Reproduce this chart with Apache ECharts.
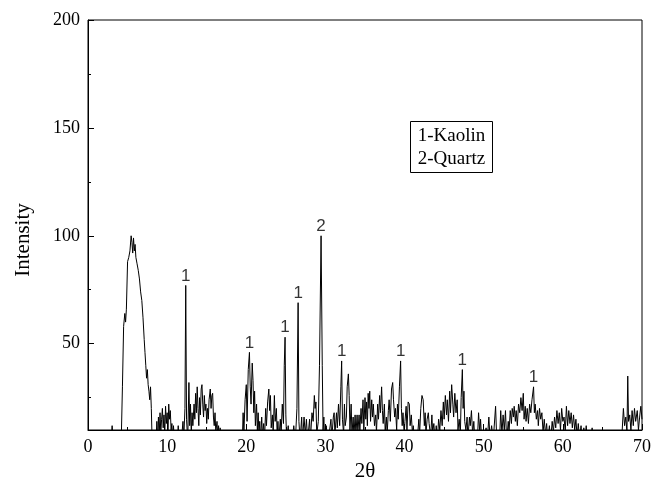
<!DOCTYPE html>
<html>
<head>
<meta charset="utf-8">
<script src="https://cdn.jsdelivr.net/npm/echarts@6/dist/echarts.min.js"></script>
<style>html,body{margin:0;padding:0;background:#fff}#c{width:651px;height:483px}</style>
</head>
<body>
<div id="c"></div>
<script>
// XRD scan: [2θ, intensity]; values below the axis minimum are clipped by the plot
const scan = [
[0.5,5],[2.9,5],[3.05,12],[3.2,5],[4.2,5],[4.35,30],[4.5,58],[4.65,64],[4.75,60],[4.85,66],[5.0,88],[5.15,90],[5.3,93],[5.45,100],[5.55,97],[5.65,92],[5.75,99],[5.85,93],[5.95,96],[6.05,90],[6.2,87],[6.35,84],[6.5,80],[6.65,74],[6.8,70],[6.95,62],[7.1,52],[7.2,46],[7.3,40],[7.4,34],[7.5,38],[7.6,31],[7.7,28],[7.8,24],[7.9,30],[8.0,20],[8.1,5],
[8.6,5],[8.7,14],[8.8,5],[8.9,16],[9.0,8],[9.1,18],[9.2,9],[9.3,15],[9.4,20],[9.5,11],[9.6,17],[9.7,8],[9.8,21],[9.9,13],[10.0,18],[10.1,7],[10.2,22],[10.3,15],[10.4,19],[10.5,10],[10.6,13],[10.7,5],[10.8,12],[10.9,6],[11.0,5],[11.3,5],[11.4,12],[11.5,5],[11.8,5],[12.0,14],[12.1,6],
[12.25,20],[12.35,77],[12.45,15],[12.6,5],[12.75,32],[12.85,12],[12.95,22],[13.05,8],[13.15,18],[13.25,12],[13.4,22],[13.5,15],[13.6,27],[13.7,18],[13.8,30],[13.9,20],[14.0,12],[14.1,25],[14.2,17],[14.3,29],[14.4,31],[14.5,22],[14.6,16],[14.7,26],[14.8,19],[14.9,22],[15.0,13],[15.1,20],[15.2,15],[15.3,24],[15.45,29],[15.55,20],[15.65,26],[15.75,27],[15.85,16],[15.95,12],[16.05,18],[16.15,9],[16.3,14],[16.4,7],[16.5,12],[16.6,5],[16.7,11],[16.85,5],[17.0,9],[17.1,5],
[19.5,5],[19.6,18],[19.7,9],[19.85,24],[20.0,31],[20.1,14],[20.25,38],[20.4,46],[20.5,30],[20.6,22],[20.75,41],[20.85,33],[20.95,18],[21.05,28],[21.15,12],[21.3,22],[21.4,9],[21.5,18],[21.6,8],[21.7,14],[21.8,5],[21.95,16],[22.05,7],[22.2,13],[22.3,5],[22.45,20],[22.55,12],[22.7,23],[22.85,29],[22.95,19],[23.05,26],[23.15,11],[23.3,17],[23.4,8],[23.55,26],[23.65,14],[23.8,20],[23.9,8],[24.0,14],[24.1,5],[24.3,15],[24.4,8],[24.55,22],[24.7,13],[24.8,40],[24.9,53],[25.0,17],[25.1,5],[25.3,12],[25.4,5],[25.6,8],[25.8,5],[26.0,12],[26.2,5],[26.4,20],[26.55,69],[26.65,14],[26.8,5],[27.0,16],[27.1,5],[27.3,16],[27.45,8],[27.6,15],[27.75,5],[28.0,15],[28.1,5],[28.3,18],[28.45,14],[28.6,26],[28.7,20],[28.8,23],[28.9,8],[29.1,14],[29.25,40],[29.45,100],[29.6,40],[29.7,10],[29.8,16],[29.9,5],
[30.1,12],[30.3,5],[30.5,9],[30.7,15],[30.8,6],[31.0,16],[31.1,18],[31.2,8],[31.4,18],[31.5,11],[31.65,22],[31.8,12],[31.95,30],[32.05,42],[32.15,15],[32.3,8],[32.4,22],[32.5,12],[32.65,16],[32.75,30],[32.9,36],[33.0,26],[33.1,10],[33.25,22],[33.35,8],[33.5,16],[33.6,7],[33.75,17],[33.85,8],[34.0,17],[34.1,9],[34.25,17],[34.35,10],[34.5,20],[34.6,13],[34.75,24],[34.85,10],[35.0,25],[35.1,15],[35.2,23],[35.3,12],[35.4,27],[35.5,20],[35.6,28],[35.7,14],[35.85,24],[35.95,16],[36.05,22],[36.2,12],[36.35,17],[36.45,9],[36.6,22],[36.7,15],[36.85,26],[36.95,18],[37.1,30],[37.2,19],[37.3,13],[37.45,22],[37.55,9],[37.7,16],[37.8,8],[37.95,19],[38.05,24],[38.2,14],[38.35,29],[38.5,32],[38.6,24],[38.75,16],[38.85,20],[39.0,10],[39.1,22],[39.2,15],[39.35,30],[39.5,42],[39.6,20],[39.7,12],[39.8,18],[39.95,8],
[40.05,14],[40.2,21],[40.3,10],[40.45,23],[40.6,22],[40.7,12],[40.85,17],[41.0,8],[41.1,12],[41.25,5],[41.4,10],[41.6,5],[41.8,15],[41.9,8],[42.05,20],[42.2,26],[42.35,24],[42.5,12],[42.6,18],[42.7,8],[42.85,15],[43.0,18],[43.1,13],[43.3,7],[43.45,17],[43.55,9],[43.7,13],[43.85,5],[44.0,12],[44.15,5],[44.3,15],[44.45,10],[44.6,19],[44.75,12],[44.9,23],[45.0,15],[45.15,26],[45.3,17],[45.4,24],[45.55,14],[45.7,28],[45.8,18],[45.95,31],[46.1,22],[46.2,16],[46.35,27],[46.5,18],[46.65,24],[46.75,10],[46.9,15],[47.05,8],[47.15,25],[47.3,38],[47.4,20],[47.5,28],[47.6,14],[47.75,10],[47.9,16],[48.0,6],[48.2,16],[48.3,12],[48.45,19],[48.6,8],[48.75,14],[48.85,7],[49.0,10],[49.2,5],[49.35,18],[49.5,9],[49.6,15],[49.75,5],[49.9,10],
[50.0,5],[50.3,11],[50.45,5],[50.65,16],[50.8,6],[51.0,12],[51.2,5],[51.5,21],[51.65,5],[51.85,8],[52.0,5],[52.15,19],[52.3,8],[52.45,17],[52.6,10],[52.75,19],[52.9,5],[53.1,14],[53.2,9],[53.35,19],[53.5,13],[53.6,20],[53.75,16],[53.85,21],[54.0,14],[54.1,19],[54.25,12],[54.4,22],[54.55,18],[54.7,25],[54.85,19],[55.0,27],[55.1,15],[55.25,21],[55.35,14],[55.5,20],[55.65,13],[55.8,22],[55.95,18],[56.1,24],[56.3,30],[56.4,18],[56.5,22],[56.65,15],[56.8,19],[56.9,12],[57.05,20],[57.2,15],[57.35,18],[57.5,9],[57.65,15],[57.8,8],[57.95,13],[58.1,5],[58.3,12],[58.45,5],[58.65,14],[58.8,9],[58.95,16],[59.1,11],[59.25,19],[59.4,13],[59.55,18],[59.7,10],[59.85,20],
[60.0,14],[60.15,16],[60.3,9],[60.45,21],[60.6,12],[60.75,19],[60.9,13],[61.05,18],[61.2,11],[61.35,17],[61.5,10],[61.65,15],[61.8,7],[61.95,13],[62.1,6],[62.3,12],[62.45,5],[62.65,11],[62.8,6],[62.95,12],[63.1,5],[63.3,10],[63.5,5],[63.7,11],[63.85,5],[64.0,9],[64.2,5],[64.5,8],[64.7,5],[65.0,6],[65.3,5],[66.0,5],[66.5,6],[67.0,5],[67.5,10],[67.65,20],[67.8,12],[67.95,16],[68.1,9],[68.2,35],[68.3,14],[68.45,17],[68.6,10],[68.75,19],[68.9,12],[69.05,20],[69.2,14],[69.4,19],[69.55,10],[69.7,16],[69.85,21],[70.0,15]
];

// Peak annotations
const peakPos    = [12.35, 20.4, 24.9, 26.55, 29.45, 32.05, 39.5, 47.3, 56.3];
const peakHeight = [77, 46, 53, 69, 100, 42, 42, 38, 30];
const peakPhase  = ['1','1','1','1','2','1','1','1','1'];

// Axis ticks
const yMajorTicks = [50, 100, 150, 200];
const yMinorTicks = [25, 75, 125, 175];
const legendLines = ['1-Kaolin', '2-Quartz'];

const serif = 'Liberation Serif';
const chart = echarts.init(document.getElementById('c'), null, {renderer: 'canvas'});

const peakData = peakPos.map((p, i) => ({value: [p, peakHeight[i]], name: peakPhase[i]}));

chart.setOption({
  animation: false,
  backgroundColor: '#fff',
  grid: {left: 88, right: 9, top: 20, bottom: 53, outerBoundsMode: 'none', containLabel: false,
    show: true, borderColor: '#000', borderWidth: 1, backgroundColor: 'transparent'},
  xAxis: {
    type: 'value', min: 0, max: 70, interval: 10,
    name: '2θ', nameLocation: 'middle', nameGap: 31,
    nameTextStyle: {fontFamily: serif, fontSize: 21, color: '#000'},
    axisLine: {show: true, onZero: false, lineStyle: {color: '#000', width: 1}},
    axisTick: {show: true, inside: true, length: 6, lineStyle: {color: '#000'}},
    minorTick: {show: true, splitNumber: 2, length: 3, lineStyle: {color: '#000'}},
    axisLabel: {fontFamily: serif, fontSize: 18, color: '#000', margin: 8},
    splitLine: {show: false}
  },
  yAxis: [{
    type: 'value', min: 10, max: 200,
    name: 'Intensity', nameLocation: 'middle', nameGap: 54, nameRotate: 90,
    nameTextStyle: {fontFamily: serif, fontSize: 21, color: '#000', padding: [0, 0, 0, -30]},
    axisLine: {show: true, onZero: false, lineStyle: {color: '#000', width: 1}},
    axisTick: {show: true, inside: true, length: 6, customValues: yMajorTicks, lineStyle: {color: '#000'}},
    axisLabel: {fontFamily: serif, fontSize: 18, color: '#000', margin: 8, customValues: yMajorTicks},
    splitLine: {show: false}
  }, {
    type: 'value', min: 10, max: 200, position: 'left',
    axisLine: {show: false},
    axisTick: {show: true, inside: true, length: 3, customValues: yMinorTicks, lineStyle: {color: '#000'}},
    axisLabel: {show: false},
    splitLine: {show: false}
  }],
  series: [{
    type: 'line', data: scan, symbol: 'none', clip: true,
    lineStyle: {color: '#000', width: 1}, silent: true
  }, {
    type: 'scatter', data: peakData, symbolSize: 0, clip: false,
    label: {show: true, position: 'top', distance: 1, formatter: p => p.name,
      fontFamily: 'Liberation Sans', fontSize: 17, color: '#000'}
  }],
  graphic: [{
    type: 'group', left: 410, top: 121,
    children: [
      {type: 'rect', shape: {x: 0, y: 0, width: 82, height: 51}, style: {fill: '#fff', stroke: '#000', lineWidth: 1}},
      {type: 'text', x: 41, y: 15, style: {text: legendLines[0], font: '19px "Liberation Serif"', fill: '#000', align: 'center', verticalAlign: 'middle'}},
      {type: 'text', x: 41, y: 38, style: {text: legendLines[1], font: '19px "Liberation Serif"', fill: '#000', align: 'center', verticalAlign: 'middle'}}
    ]
  }]
});
</script>
</body>
</html>
